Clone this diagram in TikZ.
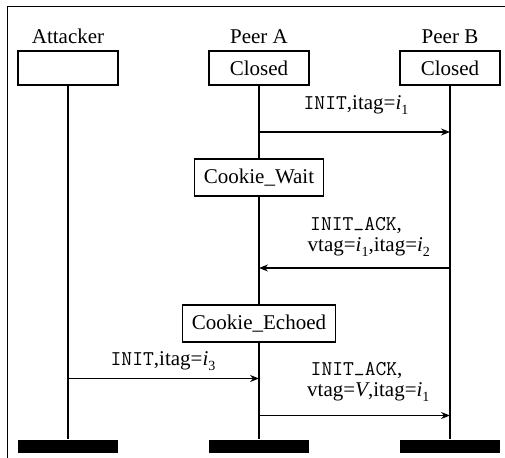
\documentclass[tikz,border=0pt]{standalone}
\usepackage{fontspec}
\setmainfont{Liberation Serif}
\usetikzlibrary{arrows.meta}
% italic variable with a numeric subscript
\newcommand{\ivar}[2]{\textit{#1}\raisebox{-0.45ex}{\fontsize{14}{14}\selectfont #2}}
% chunk type in typewriter
\newcommand{\msg}[1]{{\ttfamily #1}}
% typewriter underscore sitting on the baseline
\newcommand{\usc}{\raisebox{0.22em}{\_}}

\begin{document}
\begin{tikzpicture}[x=1pt,y=1pt,
  every node/.style={font=\fontsize{21}{25}\selectfont, inner sep=0pt},
  head/.style={anchor=base},
  state/.style={draw, line width=1.2pt, minimum height=34pt, minimum width=100pt, fill=white},
  cstate/.style={draw, line width=1.2pt, minimum height=37pt, inner xsep=9.5pt, fill=white},
  life/.style={line width=2pt},
  bar/.style={fill=black, minimum width=100pt, minimum height=13.5pt},
  msgline/.style={line width=1.3pt, -{Stealth[length=9pt,width=7pt,inset=3pt]}},
  lbl/.style={anchor=base},
  lblw/.style={anchor=base west}
]
\useasboundingbox (0,0) rectangle (505,-457);
% outer frame
\draw[line width=1pt] (7,-458) |- (506,-7);

% participants
\node[head] (hatt) at (68,-44) {Attacker};
\node[head] (hpa) at (259,-44) {Peer A};
\node[head] (hpb) at (450,-44) {Peer B};

\node[state] (att) at (68,-68) {};
\node[state] (pa) at (259,-68) {Closed};
\node[state] (pb) at (450,-68) {Closed};

\node[bar] (attbar) at (68,-446.3) {};
\node[bar] (pabar) at (259,-446.3) {};
\node[bar] (pbbar) at (450,-446.3) {};

% intermediate states of Peer A
\node[cstate] (cw) at (259,-177.5) {Cookie\_Wait};
\node[cstate] (ce) at (259,-323.5) {Cookie\_Echoed};

% lifelines
\draw[life] (att.south) -- (attbar.north);
\draw[life] (pa.south) -- (cw.north);
\draw[life] (cw.south) -- (ce.north);
\draw[life] (ce.south) -- (pabar.north);
\draw[life] (pb.south) -- (pbbar.north);

% message end points
\coordinate (a1) at (259,-132);
\coordinate (b1) at (450,-132);
\coordinate (b2) at (450,-268);
\coordinate (a2) at (259,-268);
\coordinate (t3) at (68,-378.5);
\coordinate (a3) at (259,-378.5);
\coordinate (a4) at (259,-415.5);
\coordinate (b4) at (450,-415.5);

% messages
\draw[msgline] (a1) -- (b1);
\node[lbl] (m1) at (356,-110) {\msg{INIT},itag=\ivar{i}{1}};

\draw[msgline] (b2) -- (a2);
\node[lblw] (m2a) at (310,-230.7) {\msg{INIT\usc ACK},};
\node[lblw] (m2b) at (307.5,-251.7) {vtag=\ivar{i}{1},itag=\ivar{i}{2}};

\draw[msgline] (t3) -- (a3);
\node[lbl] (m3) at (163,-365.7) {\msg{INIT},itag=\ivar{i}{3}};

\draw[msgline] (a4) -- (b4);
\node[lblw] (m4a) at (310.5,-375.7) {\msg{INIT\usc ACK},};
\node[lblw] (m4b) at (307,-396.7) {vtag=\textit{V},itag=\ivar{i}{1}};
\end{tikzpicture}
\end{document}
